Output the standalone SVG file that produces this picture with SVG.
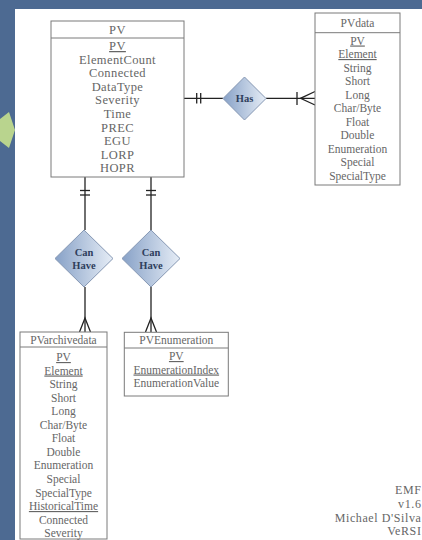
<svg xmlns="http://www.w3.org/2000/svg" width="422" height="540" viewBox="0 0 422 540">
<style>
.ent{fill:#ffffff;stroke:#7a7a7a;stroke-width:1}
.t{font-family:"Liberation Serif","Times New Roman",serif;font-size:11.5px;fill:#666666;text-anchor:middle}
.big{font-size:12.5px;letter-spacing:0.4px}
.u{text-decoration:underline}
.rel{fill:url(#dg);stroke:#8597b3;stroke-width:1}
.rt{font-family:"Liberation Serif","Times New Roman",serif;font-size:10.5px;font-weight:bold;fill:#2e3e5c;text-anchor:middle}
.ln{stroke:#222222;stroke-width:1.3;fill:none}
.ft{font-family:"Liberation Serif","Times New Roman",serif;font-size:12px;letter-spacing:0.6px;fill:#666666;text-anchor:end}
</style>
<defs>
<linearGradient id="dg" x1="0" y1="0" x2="1" y2="0">
<stop offset="0" stop-color="#87a1c7"/>
<stop offset="1" stop-color="#e6edf6"/>
</linearGradient>
</defs>
<rect x="0" y="0" width="422" height="540" fill="#4d6a92"/>
<rect x="15" y="9" width="407" height="531" fill="#ffffff"/>
<polygon points="0,119 9,112 15,130 9,148 0,141" fill="#b9d48e"/>

<g id="connectors">
<line class="ln" x1="184" y1="98.3" x2="223" y2="98.3"/>
<line class="ln" x1="196.7" y1="93" x2="196.7" y2="103.5"/>
<line class="ln" x1="200.7" y1="93" x2="200.7" y2="103.5"/>
<line class="ln" x1="266" y1="98.3" x2="315" y2="98.3"/>
<line class="ln" x1="297" y1="92" x2="297" y2="105"/>
<polyline class="ln" points="315,91.5 300.5,98.3 315,105"/>

<line class="ln" x1="85" y1="177" x2="85" y2="230"/>
<line class="ln" x1="80" y1="190.5" x2="90" y2="190.5"/>
<line class="ln" x1="80" y1="195" x2="90" y2="195"/>
<line class="ln" x1="85" y1="287" x2="85" y2="332"/>
<polyline class="ln" points="79.5,332 85,318 90.5,332"/>

<line class="ln" x1="151" y1="177" x2="151" y2="230"/>
<line class="ln" x1="146" y1="190.5" x2="156" y2="190.5"/>
<line class="ln" x1="146" y1="195" x2="156" y2="195"/>
<line class="ln" x1="151" y1="287" x2="151" y2="332"/>
<polyline class="ln" points="145.5,332 151,318 156.5,332"/>
</g>

<g id="PV">
<rect class="ent" x="51" y="21" width="133" height="156"/>
<line class="ent" x1="51" y1="38" x2="184" y2="38"/>
<text class="t big" x="117.5" y="34">PV</text>
<text class="t big u" x="117.5" y="50">PV</text>
<text class="t big" x="117.5" y="63.6">ElementCount</text>
<text class="t big" x="117.5" y="77.2">Connected</text>
<text class="t big" x="117.5" y="90.8">DataType</text>
<text class="t big" x="117.5" y="104.4">Severity</text>
<text class="t big" x="117.5" y="118">Time</text>
<text class="t big" x="117.5" y="131.6">PREC</text>
<text class="t big" x="117.5" y="145.2">EGU</text>
<text class="t big" x="117.5" y="158.8">LORP</text>
<text class="t big" x="117.5" y="172.4">HOPR</text>
</g>

<g id="Has">
<polygon class="rel" points="244.5,77 266,98.5 244.5,120 223,98.5"/>
<text class="rt" x="244.5" y="102">Has</text>
</g>

<g id="PVdata">
<rect class="ent" x="315" y="13" width="85" height="172"/>
<line class="ent" x1="315" y1="32.7" x2="400" y2="32.7"/>
<text class="t" x="357.5" y="27">PVdata</text>
<text class="t u" x="357.5" y="44.5">PV</text>
<text class="t u" x="357.5" y="58">Element</text>
<text class="t" x="357.5" y="71.5">String</text>
<text class="t" x="357.5" y="85">Short</text>
<text class="t" x="357.5" y="98.5">Long</text>
<text class="t" x="357.5" y="112">Char/Byte</text>
<text class="t" x="357.5" y="125.5">Float</text>
<text class="t" x="357.5" y="139">Double</text>
<text class="t" x="357.5" y="152.5">Enumeration</text>
<text class="t" x="357.5" y="166">Special</text>
<text class="t" x="357.5" y="179.5">SpecialType</text>
</g>

<g id="CanHave1">
<polygon class="rel" points="84,230 113,258.5 84,287 55,258.5"/>
<text class="rt" x="84" y="256">Can</text>
<text class="rt" x="84" y="269">Have</text>
</g>

<g id="CanHave2">
<polygon class="rel" points="151,230 180,258.5 151,287 122,258.5"/>
<text class="rt" x="151" y="256">Can</text>
<text class="rt" x="151" y="269">Have</text>
</g>

<g id="PVarchivedata">
<rect class="ent" x="20" y="332" width="87" height="207"/>
<line class="ent" x1="20" y1="347" x2="107" y2="347"/>
<text class="t" x="63.5" y="344">PVarchivedata</text>
<text class="t u" x="63.5" y="361">PV</text>
<text class="t u" x="63.5" y="374.5">Element</text>
<text class="t" x="63.5" y="388.1">String</text>
<text class="t" x="63.5" y="401.6">Short</text>
<text class="t" x="63.5" y="415.2">Long</text>
<text class="t" x="63.5" y="428.7">Char/Byte</text>
<text class="t" x="63.5" y="442.3">Float</text>
<text class="t" x="63.5" y="455.8">Double</text>
<text class="t" x="63.5" y="469.4">Enumeration</text>
<text class="t" x="63.5" y="482.9">Special</text>
<text class="t" x="63.5" y="496.5">SpecialType</text>
<text class="t u" x="63.5" y="510">HistoricalTime</text>
<text class="t" x="63.5" y="523.6">Connected</text>
<text class="t" x="63.5" y="537.1">Severity</text>
</g>

<g id="PVEnumeration">
<rect class="ent" x="124.3" y="332.3" width="104" height="63.7"/>
<line class="ent" x1="124.3" y1="348" x2="228.3" y2="348"/>
<text class="t" x="176.3" y="344">PVEnumeration</text>
<text class="t u" x="176.3" y="360">PV</text>
<text class="t u" x="176.3" y="373.5">EnumerationIndex</text>
<text class="t" x="176.3" y="387">EnumerationValue</text>
</g>

<g id="footer">
<text class="ft" x="421.5" y="494">EMF</text>
<text class="ft" x="421.5" y="508">v1.6</text>
<text class="ft" x="421.5" y="521.5">Michael D'Silva</text>
<text class="ft" x="421.5" y="535">VeRSI</text>
</g>
</svg>
